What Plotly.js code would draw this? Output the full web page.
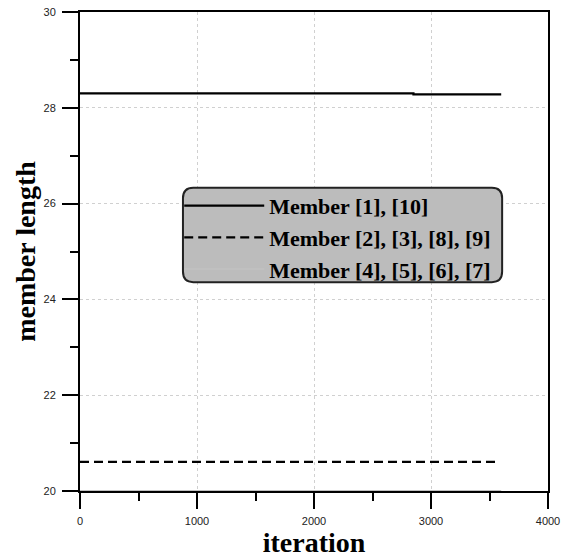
<!DOCTYPE html>
<html><head><meta charset="utf-8">
<script src="https://cdn.plot.ly/plotly-3.0.1.min.js"></script>
<style>body{margin:0;background:#fff}#chart{width:582px;height:558px}</style>
</head><body><div id="chart"></div>
<script>
const seriesNames = ["Member [1], [10]", "Member [2], [3], [8], [9]", "Member [4], [5], [6], [7]"];
const iterA = [0, 2850, 2850, 3600];
const lenA = [28.30, 28.30, 28.28, 28.28];
const iterB = [0, 3580];
const lenB = [20.61, 20.61];
const iterC = [0, 3600];
const lenC = [20.0, 20.0];
const xTicks = [0, 1000, 2000, 3000, 4000];
const yTicks = [20, 22, 24, 26, 28, 30];

const serif = "Liberation Serif, Times New Roman, serif";
const sans = "Liberation Sans, Arial, sans-serif";

const traces = [
  {x: iterA, y: lenA, name: seriesNames[0], mode: 'lines', line: {color: '#000', width: 2.2}, legendgroup: 'a'},
  {x: iterB, y: lenB, name: seriesNames[1], mode: 'lines', line: {color: '#000', width: 2.2, dash: '9px,5px'}, legendgroup: 'b'},
  {x: iterC, y: lenC, name: seriesNames[2], mode: 'lines', line: {color: '#c0c0c0', width: 2}, legendgroup: 'c'}
];

const L = 0.22, R = 0.902, T = 0.633, B = 0.436, rx = 0.022, ry = 0.022;
const path = `M ${L+rx} ${T} L ${R-rx} ${T} Q ${R} ${T} ${R} ${T-ry} L ${R} ${B+ry} Q ${R} ${B} ${R-rx} ${B} L ${L+rx} ${B} Q ${L} ${B} ${L} ${B+ry} L ${L} ${T-ry} Q ${L} ${T} ${L+rx} ${T} Z`;

const layout = {
  width: 582, height: 558,
  margin: {l: 80, r: 34, t: 12, b: 67},
  paper_bgcolor: '#fff', plot_bgcolor: '#fff',
  showlegend: true,
  legend: {x: 0.212, y: 0.639, xanchor: 'left', yanchor: 'top', bgcolor: 'rgba(0,0,0,0)', borderwidth: 0,
    font: {family: serif, size: 22, color: '#000', weight: 'bold'}, itemwidth: 80, tracegroupgap: 0},
  xaxis: {range: [0, 4000], tickvals: xTicks, ticks: 'outside', ticklen: 16, tickwidth: 2, tickcolor: '#000',
    showline: true, linewidth: 2, linecolor: '#000', mirror: true, zeroline: false,
    showgrid: true, gridcolor: '#d0d0d0', griddash: 'dot', gridwidth: 1,
    minor: {dtick: 500, tick0: 0, ticks: 'outside', ticklen: 8, tickwidth: 2, tickcolor: '#000', showgrid: false},
    tickfont: {family: sans, size: 11, color: '#222'}, ticklabelstandoff: 3,
    title: {text: 'iteration', font: {family: serif, size: 28, color: '#000', weight: 'bold'}, standoff: 0}},
  yaxis: {range: [20, 30], tickvals: yTicks, ticks: 'outside', ticklen: 16, tickwidth: 2, tickcolor: '#000',
    showline: true, linewidth: 2, linecolor: '#000', mirror: true, zeroline: false,
    showgrid: true, gridcolor: '#d0d0d0', griddash: 'dot', gridwidth: 1,
    minor: {dtick: 1, tick0: 20, ticks: 'outside', ticklen: 8, tickwidth: 2, tickcolor: '#000', showgrid: false},
    tickfont: {family: sans, size: 11, color: '#222'}, ticklabelstandoff: 4,
    title: {text: 'member length', font: {family: serif, size: 28, color: '#000', weight: 'bold'}, standoff: 0}},
  shapes: [{type: 'path', xref: 'paper', yref: 'paper', path: path, fillcolor: '#bcbcbc',
    line: {color: '#222', width: 2}, layer: 'above'}]
};
Plotly.newPlot('chart', traces, layout, {staticPlot: true, displayModeBar: false});
</script></body></html>
